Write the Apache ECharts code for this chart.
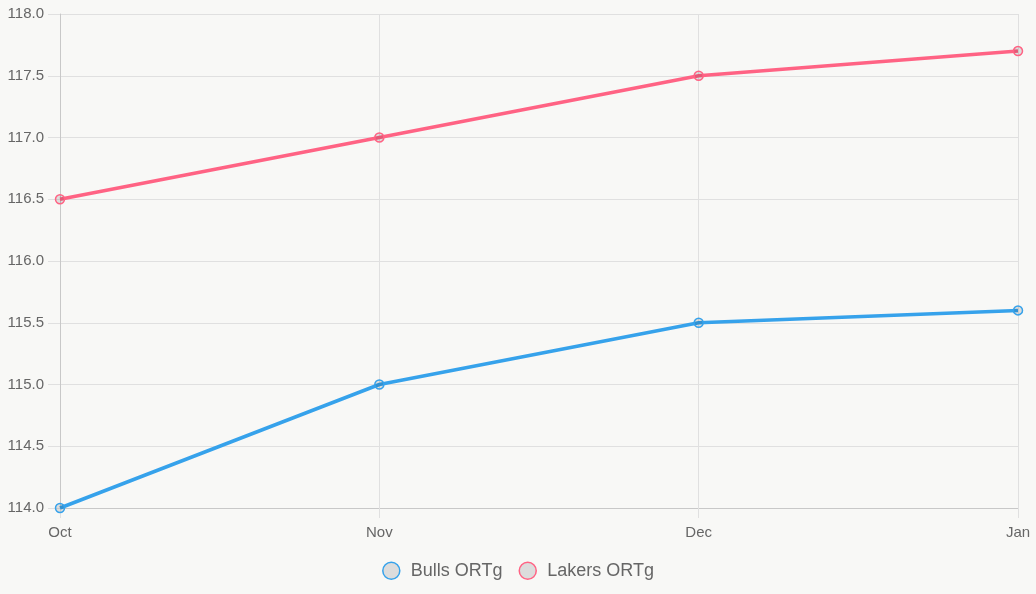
<!DOCTYPE html>
<html><head><meta charset="utf-8">
<script src="https://cdn.jsdelivr.net/npm/echarts@6/dist/echarts.min.js"></script>
<style>html,body{margin:0;padding:0;background:#f8f8f6;}#c{width:1036px;height:594px;}</style>
</head><body><div id="c"></div>
<script>
const categories = ['Oct', 'Nov', 'Dec', 'Jan'];
const bullsORTg = [114.0, 115.0, 115.5, 115.6];
const lakersORTg = [116.5, 117.0, 117.5, 117.7];
const seriesNames = ['Bulls ORTg', 'Lakers ORTg'];
const colors = ['#36a2eb', '#ff6384'];

const chart = echarts.init(document.getElementById('c'));
const font = 'Liberation Sans, Arial, sans-serif';
function mk(name, data, color) {
  return {
    name, type: 'line', data,
    lineStyle: { color, width: 3.5 },
    itemStyle: { color: 'rgba(0,0,0,0.1)', borderColor: color, borderWidth: 1.5 },
    symbol: 'circle', symbolSize: 9, showSymbol: true,
    emphasis: { disabled: true }, animation: false
  };
}
chart.setOption({
  backgroundColor: '#f8f8f6',
  animation: false,
  color: colors,
  grid: { left: 60, right: 18, top: 14, bottom: 86, containLabel: false },
  legend: {
    bottom: 9, itemGap: 16, itemWidth: 17, itemHeight: 17, icon: 'circle',
    data: seriesNames.map((n, i) => ({ name: n, itemStyle: { color: '#dcdcdc', borderColor: colors[i], borderWidth: 1.5 } })),
    textStyle: { color: '#666', fontSize: 18, fontFamily: font, padding: [0, 0, 0, 6] }
  },
  xAxis: {
    type: 'category', data: categories, boundaryGap: false,
    axisLine: { lineStyle: { color: '#c8c8c8', width: 1 } },
    axisTick: { show: true, length: 10, alignWithLabel: true, lineStyle: { color: '#e0e0e0' } },
    axisLabel: { color: '#666', fontSize: 15, fontFamily: font, margin: 17 },
    splitLine: { show: true, lineStyle: { color: '#e0e0e0' } }
  },
  yAxis: {
    type: 'value', min: 114, max: 118, interval: 0.5,
    axisLine: { show: true, lineStyle: { color: '#c8c8c8' } },
    axisTick: { show: true, length: 12, lineStyle: { color: '#e0e0e0' } },
    axisLabel: { color: '#666', fontSize: 15, fontFamily: font, margin: 16, formatter: v => v.toFixed(1) },
    splitLine: { show: true, lineStyle: { color: '#e0e0e0' } }
  },
  series: [mk(seriesNames[0], bullsORTg, colors[0]), mk(seriesNames[1], lakersORTg, colors[1])]
});
</script></body></html>
